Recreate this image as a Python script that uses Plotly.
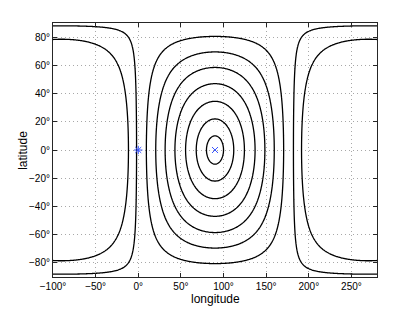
import numpy as np
import plotly.graph_objects as go

# grid of the field (longitude / latitude, degrees)
lon_axis = np.arange(-100, 280.5, 1.0)
lat_axis = np.arange(-90, 90.5, 1.0)

# contour levels: angular distance (deg) from the point (90°, 0°)
levels = [10, 22, 34.5, 47, 58.5, 69.5, 80.5, 92, 101.5]

# marked points
star_lon, star_lat = [0], [0]
cross_lon, cross_lat = [90], [0]

x_ticks = [-100, -50, 0, 50, 100, 150, 200, 250]
x_labels = ['\u2212100°', '\u221250°', '0°', '50°', '100°', '150°', '200°', '250°']
y_ticks = [-80, -60, -40, -20, 0, 20, 40, 60, 80]
y_labels = ['\u221280°', '\u221260°', '\u221240°', '\u221220°', '0°', '20°', '40°', '60°', '80°']

LON, LAT = np.meshgrid(np.radians(lon_axis), np.radians(lat_axis))
field = np.degrees(np.arccos(np.clip(np.cos(LAT) * np.sin(LON), -1, 1)))

fig = go.Figure()
for lv in levels:
    fig.add_trace(go.Contour(
        x=lon_axis, y=lat_axis, z=field,
        autocontour=False,
        contours=dict(start=lv, end=lv, size=1, coloring='lines'),
        line=dict(color='black', width=1.3, smoothing=0.8),
        colorscale=[[0, 'black'], [1, 'black']],
        showscale=False, hoverinfo='skip'))

blue = '#3a55ff'
fig.add_trace(go.Scatter(x=star_lon, y=star_lat, mode='markers',
                         marker=dict(symbol='asterisk-open', size=7, color=blue,
                                     line=dict(color=blue, width=1)),
                         showlegend=False))
fig.add_trace(go.Scatter(x=cross_lon, y=cross_lat, mode='markers',
                         marker=dict(symbol='x-thin-open', size=6, color=blue,
                                     line=dict(color=blue, width=1)),
                         showlegend=False))

font = "Liberation Sans, Arial, sans-serif"
axis_common = dict(
    showgrid=True, gridcolor='#a8a8a8', griddash='1px,3px', gridwidth=1,
    showline=True, linecolor='#262626', linewidth=1, mirror='ticks',
    ticks='inside', ticklen=4, tickcolor='#262626', zeroline=False,
    tickmode='array', automargin=False,
    tickfont=dict(family=font, size=10, color='black'),
)
# the page body adds an 8px offset; the figure is sized so the plot box lands
# at x 53..377, y 23..277 of the window
fig.update_layout(
    width=399, height=304,
    margin=dict(l=45, r=30, t=15, b=35),
    paper_bgcolor='white', plot_bgcolor='white',
    showlegend=False,
    xaxis=dict(range=[-100, 280], tickvals=x_ticks, ticktext=x_labels, **axis_common),
    yaxis=dict(range=[-90, 90], tickvals=y_ticks, ticktext=y_labels, **axis_common),
    annotations=[
        dict(text='longitude', xref='paper', yref='paper', x=0.5, y=-0.088,
             xanchor='center', yanchor='middle', showarrow=False,
             font=dict(family=font, size=12, color='black')),
        dict(text='latitude', xref='paper', yref='paper', x=-0.093, y=0.5,
             xanchor='center', yanchor='middle', textangle=-90, showarrow=False,
             font=dict(family=font, size=12, color='black')),
    ],
)
fig.write_html("out.html")
